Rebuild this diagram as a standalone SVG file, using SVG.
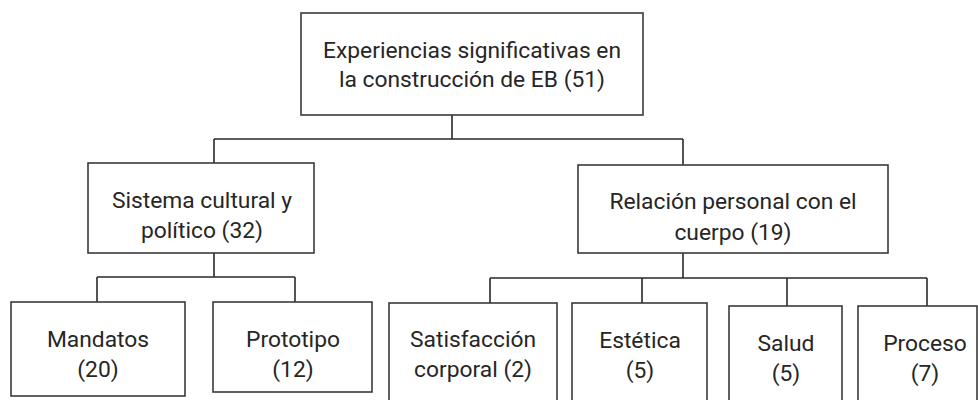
<svg xmlns="http://www.w3.org/2000/svg" width="978" height="400" viewBox="0 0 978 400">
<style>
.box{fill:#fff;stroke:#3a3a3a;stroke-width:1.6}
.ln{fill:none;stroke:#2a2a2a;stroke-width:1.6}
text{font-family:Roboto,"Liberation Sans",sans-serif;font-size:22.8px;fill:#262626;text-anchor:middle}
</style>
<rect width="978" height="400" fill="#fff"/>
<g id="connectors">
<path class="ln" d="M452 115V139M214 139H683M214 139V163M683 139V165"/>
<path class="ln" d="M214 253V277M97 277H295M97 277V302M295 277V302"/>
<path class="ln" d="M683 253V278M490 278H927M490 278V303M642 278V303M787 278V306M927 278V306"/>
</g>
<g id="root"><rect class="box" x="301" y="13" width="342" height="102"/>
<text x="472" y="58">Experiencias significativas en</text><text x="472" y="87">la construcción de EB (51)</text></g>
<g id="sistema"><rect class="box" x="88" y="163" width="226" height="90"/>
<text x="202" y="208">Sistema cultural y</text><text x="202" y="238">político (32)</text></g>
<g id="relacion"><rect class="box" x="578" y="165" width="310" height="88"/>
<text x="733" y="209">Relación personal con el</text><text x="733" y="240">cuerpo (19)</text></g>
<g id="mandatos"><rect class="box" x="11" y="302" width="174" height="94"/>
<text x="98" y="347">Mandatos</text><text x="98" y="377">(20)</text></g>
<g id="prototipo"><rect class="box" x="213" y="302" width="159" height="90"/>
<text x="293" y="347">Prototipo</text><text x="293" y="377">(12)</text></g>
<g id="satisfaccion"><rect class="box" x="389" y="303" width="168" height="110"/>
<text x="473" y="347">Satisfacción</text><text x="473" y="377">corporal (2)</text></g>
<g id="estetica"><rect class="box" x="572" y="303" width="135" height="110"/>
<text x="640" y="348">Estética</text><text x="640" y="378">(5)</text></g>
<g id="salud"><rect class="box" x="729" y="306" width="113" height="110"/>
<text x="786" y="351">Salud</text><text x="786" y="381">(5)</text></g>
<g id="proceso"><rect class="box" x="858" y="306" width="119" height="110"/>
<text x="925" y="351">Proceso</text><text x="925" y="381">(7)</text></g>
</svg>
